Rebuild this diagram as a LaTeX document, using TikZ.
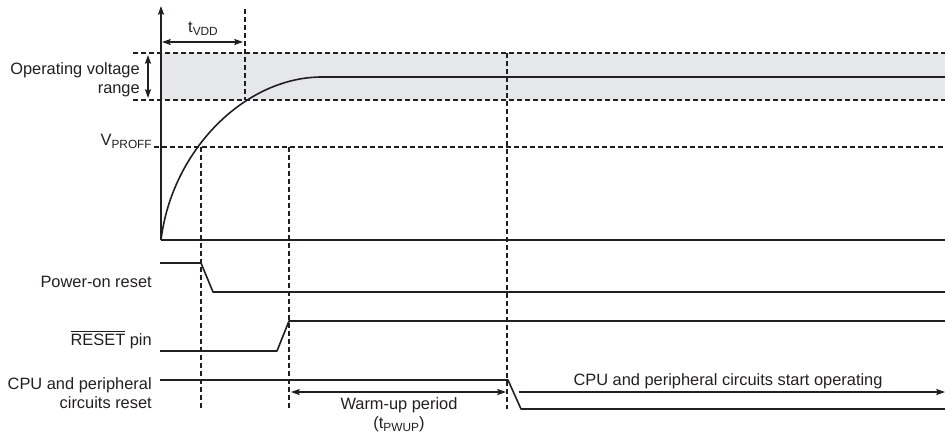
\documentclass[tikz,border=0pt]{standalone}
\usepackage{fontspec}
\setmainfont{Liberation Sans}
\usetikzlibrary{arrows.meta}
\newcommand{\mysub}[1]{\raisebox{-0.35ex}{\fontsize{8.9}{10}\selectfont #1}}
\definecolor{bandgrey}{HTML}{E6E7E9}
\definecolor{ink}{HTML}{231F20}
\begin{document}
\begin{tikzpicture}[x=0.75pt,y=-0.75pt,
  sig/.style={line width=1.2pt, line join=round, draw=ink},
  dsh/.style={line width=0.9pt, dash pattern=on 3.75pt off 2.25pt, draw=ink},
  tip/.style={-{Stealth[length=6.5pt,width=4.5pt,inset=1pt]}},
  dtip/.style={{Stealth[length=6.5pt,width=4.5pt,inset=1pt]}-{Stealth[length=6.5pt,width=4.5pt,inset=1pt]}},
  lbl/.style={font=\fontsize{12.3}{14.5}\selectfont, inner sep=0pt, text=ink}
]
\useasboundingbox (0,0) rectangle (945,435);
% band
\fill[bandgrey] (161,53) rectangle (945,100);
% coordinates
\coordinate (o) at (161,240);
\coordinate (ytop) at (161,6);
\coordinate (xend) at (945,240);
\coordinate (bandTL) at (133,53);
\coordinate (bandTR) at (945,53);
\coordinate (bandBL) at (133,100);
\coordinate (bandBR) at (945,100);
\coordinate (vpL) at (154,147);
\coordinate (vpR) at (945,147);
\coordinate (tvT) at (245,9);
\coordinate (tvB) at (245,100);
\coordinate (d1T) at (201,147);
\coordinate (d1B) at (201,409);
\coordinate (d2T) at (289,147);
\coordinate (d2B) at (289,409);
\coordinate (d3T) at (507,53);
\coordinate (d3B) at (507,409);
% dashed lines
\draw[dsh] (bandTL) -- (bandTR);
\draw[dsh] (bandBL) -- (bandBR);
\draw[dsh] (vpL) -- (vpR);
\draw[dsh] (tvT) -- (tvB);
\draw[dsh] (d1T) -- (d1B);
\draw[dsh] (d2T) -- (d2B);
\draw[dsh] (d3T) -- (d3B);
% axes
\draw[sig, tip] (o) -- (ytop);
\draw[sig] (o) -- (xend);
% curve
\coordinate (cq1) at (172,150);
\coordinate (cq2) at (245,77);
\coordinate (plat) at (322,77);
\coordinate (platR) at (945,77);
\draw[sig] (o) .. controls (cq1) and (cq2) .. (plat) -- (platR);
% range arrow
\coordinate (raT) at (148,55);
\coordinate (raB) at (148,98);
\draw[line width=1.1pt, draw=ink, dtip] (raT) -- (raB);
% tVDD arrow
\coordinate (taL) at (162,42);
\coordinate (taR) at (243,42);
\draw[line width=1.1pt, draw=ink, dtip] (taL) -- (taR);
% power-on reset
\coordinate (p0) at (160,263);
\coordinate (p1) at (201,263);
\coordinate (p2) at (213,292);
\coordinate (p3) at (945,292);
\draw[sig] (p0) -- (p1) -- (p2) -- (p3);
% RESET pin
\coordinate (r0) at (160,351);
\coordinate (r1) at (277,351);
\coordinate (r2) at (289,321);
\coordinate (r3) at (945,321);
\draw[sig] (r0) -- (r1) -- (r2) -- (r3);
% CPU reset
\coordinate (c0) at (160,380);
\coordinate (c1) at (508,380);
\coordinate (c2) at (521,409);
\coordinate (c3) at (945,409);
\draw[sig] (c0) -- (c1) -- (c2) -- (c3);
% warm-up arrow
\coordinate (wL) at (291,392);
\coordinate (wR) at (506,392);
\draw[line width=1.1pt, draw=ink, dtip] (wL) -- (wR);
% start operating arrow
\coordinate (sL) at (519,392);
\coordinate (sR) at (945,392);
\draw[line width=1.1pt, draw=ink, tip] (sL) -- (sR);
% labels
\node[lbl, anchor=east, align=right] (opr) at (140,80) {Operating voltage\\range};
\node[lbl, anchor=base east] (vp) at (152,145) {V\mysub{PROFF}};
\node[lbl] (tv) at (203,29) {t\mysub{VDD}};
\node[lbl, anchor=east] (por) at (152,282) {Power-on reset};
\node[lbl, anchor=base east] (rst) at (152,345) {$\overline{\mbox{RESET}}$ pin};
\node[lbl, anchor=east, align=right] (cpu) at (152,393) {CPU and peripheral\\circuits reset};
\node[lbl, align=center] (wu) at (399,415) {Warm-up period\\(t\mysub{PWUP})};
\node[lbl] (st) at (728,381) {CPU and peripheral circuits start operating};
\end{tikzpicture}
\end{document}
